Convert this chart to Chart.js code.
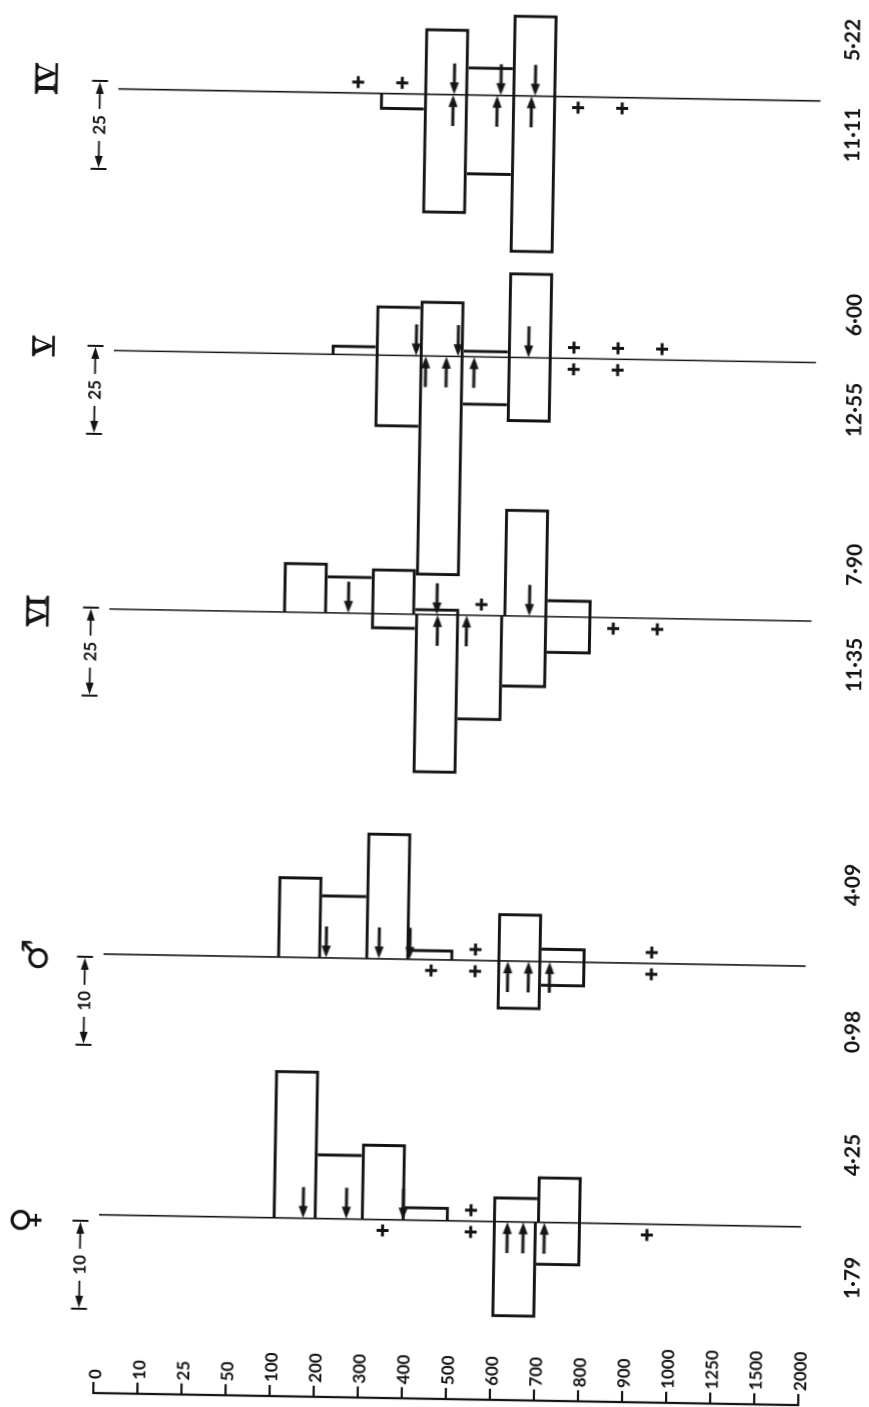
<!DOCTYPE html>
<html>
<head>
<meta charset="utf-8">
<title>Vertical distribution by depth, stages IV to VI</title>
<script src="https://cdn.jsdelivr.net/npm/chart.js@4.4.1/dist/chart.umd.min.js"></script>
<style>
  html, body { margin: 0; padding: 0; background: #fff; overflow: hidden; }
  #wrap { position: relative; width: 869px; height: 1407px; overflow: hidden; background: #fff; }
  /* the printed page is turned by about one degree, so the canvas is turned with it */
  #chart { position: absolute; left: -30px; top: -30px; background: #fff;
           transform-origin: 123.3px 1423px; transform: rotate(0.985deg); }
</style>
</head>
<body>
<div id="wrap"><canvas id="chart" width="929" height="1467"></canvas></div>
<script>
// Depth axis (m)
const depthTicks = ['0', '10', '25', '50', '100', '200', '300', '400', '500', '600', '700', '800', '900', '1000', '1250', '1500', '2000'];
const depthBounds = [0, 10, 25, 50, 100, 200, 300, 400, 500, 600, 700, 800, 900, 1000, 1250, 1500, 2000];

// Panels, top to bottom of the page
const panelNames = ['IV', 'V', 'VI', '\u2642', '\u2640'];
const scaleLabels = ['25', '25', '25', '10', '10'];
const upperTotals = ['5\u00b722', '6\u00b700', '7\u00b790', '4\u00b709', '4\u00b725'];
const lowerTotals = ['11\u00b711', '12\u00b755', '11\u00b735', '0\u00b798', '1\u00b779'];

// One value per depth band (16 bands: 0-10 ... 1500-2000), in units of the panel's scale bar
//                     0    10   25   50   100   200   300   400   500   600   700  800  900 1000 1250 1500
const stageIVUpper  = [null,null,null,null,null, null, null, 19.0, 8.2,  23.3, null,null,null,null,null,null];
const stageIVLower  = [null,null,null,null,null, null, 4.7,  34.3, 23.1, 45.2, null,null,null,null,null,null];
const stageVUpper   = [null,null,null,null,null, 2.8,  14.3, 15.9, 2.0,  24.5, null,null,null,null,null,null];
const stageVLower   = [null,null,null,null,null, null, 20.7, 63.2, 14.1, 18.6, null,null,null,null,null,null];
const stageVIUpper  = [null,null,null,null,14.4, 10.8, 13.0, 1.8,  null, 30.8, 5.0, null,null,null,null,null];
const stageVILower  = [null,null,null,null,null, null, 4.5,  45.7, 30.3, 20.6, 10.7,null,null,null,null,null];
const maleUpper     = [null,null,null,null,9.3,  7.3,  14.5, 1.2,  null, 5.5,  1.6, null,null,null,null,null];
const maleLower     = [null,null,null,null,null, null, null, null, null, 5.6,  2.9, null,null,null,null,null];
const femaleUpper   = [null,null,null,null,17.0, 7.5,  8.7,  1.6,  null, 2.9,  5.3, null,null,null,null,null];
const femaleLower   = [null,null,null,null,null, null, null, null, null, 11.0, 5.0, null,null,null,null,null];

// Bands sampled with nothing caught (+), by band index
const stageIVUpperNil = [5, 6];
const stageIVLowerNil = [10, 11];
const stageVUpperNil = [10, 11, 12];
const stageVLowerNil = [10, 11];
const stageVIUpperNil = [8];
const stageVILowerNil = [11, 12];
const maleUpperNil = [8, 12];
const maleLowerNil = [7, 8, 12];
const femaleUpperNil = [8];
const femaleLowerNil = [6, 8, 12];

// Quartile and median depths (m), shown as arrows
const stageIVUpperQ = [468, 574, 652];
const stageIVLowerQ = [466, 566, 644];
const stageVUpperQ = [392, 487, 647];
const stageVLowerQ = [414, 461, 524];
const stageVIUpperQ = [248, 449, 659];
const stageVILowerQ = [451, 517];
const maleUpperQ = [211, 331, 401];
const maleLowerQ = [624, 671, 719];
const femaleUpperQ = [169, 267, 396];
const femaleLowerQ = [633, 669, 717];

const upperSets = [stageIVUpper, stageVUpper, stageVIUpper, maleUpper, femaleUpper];
const lowerSets = [stageIVLower, stageVLower, stageVILower, maleLower, femaleLower];
const upperNils = [stageIVUpperNil, stageVUpperNil, stageVIUpperNil, maleUpperNil, femaleUpperNil];
const lowerNils = [stageIVLowerNil, stageVLowerNil, stageVILowerNil, maleLowerNil, femaleLowerNil];
const upperQs = [stageIVUpperQ, stageVUpperQ, stageVIUpperQ, maleUpperQ, femaleUpperQ];
const lowerQs = [stageIVLowerQ, stageVLowerQ, stageVILowerQ, maleLowerQ, femaleLowerQ];

// ---- layout (page pixels, before the one degree turn) ----
const PAD = 30;                 // canvas overhang on every side
const W = 929, H = 1467;
const AXIS_LEFT = 93.3, AXIS_RIGHT = 798.3, AXIS_Y = 1393;
const panelBase = [81, 346, 607.7, 957, 1221];   // baseline of each panel
const panelPx = [3.52, 3.52, 3.52, 8.8, 8.8];     // pixels per unit (scale bar = 88 px)
const SCALE_X = 77.5, SCALE_LEN = 88;
const INK = '#141414';
const LW = 3;

// label anchors as they sit on the turned page
const TILT = 0.0172;
const nameAt = [[46.5, 78.5], [43.5, 346], [37.5, 611], [38, 955], [27.5, 1220]];
const upperTotalAt = [[853, 40], [855, 315], [855, 565], [853, 885], [853, 1155]];
const lowerTotalAt = [[853, 135], [855, 410], [855, 665], [853, 1032], [853, 1278]];

function flat(x, y) {
    const dx = x - AXIS_LEFT, dy = y - AXIS_Y;
    const c = Math.cos(TILT), s = Math.sin(TILT);
    return [AXIS_LEFT + dx * c + dy * s + PAD, AXIS_Y - dx * s + dy * c + PAD];
}

function depthPos(d) {
    for (let i = 0; i < depthBounds.length - 1; i++) {
        if (d <= depthBounds[i + 1]) {
            return i + (d - depthBounds[i]) / (depthBounds[i + 1] - depthBounds[i]);
        }
    }
    return depthBounds.length - 1;
}

function makeArrow(down) {
    const c = document.createElement('canvas');
    c.width = 12; c.height = 31;
    const g = c.getContext('2d');
    g.fillStyle = INK;
    if (down) { g.translate(0, 31); g.scale(1, -1); }
    g.beginPath();
    g.moveTo(6, 0); g.lineTo(10.6, 12); g.lineTo(1.4, 12); g.closePath();
    g.fill();
    g.fillRect(4.5, 9, 3, 22);
    return c;
}
const arrowDown = makeArrow(true);
const arrowUp = makeArrow(false);

// borders between neighbouring bands are drawn once, by the taller bar
function barBorder(ctx) {
    if (!ctx.raw) return LW;
    const vals = ctx.dataset.vals;
    const i = Math.floor(ctx.raw.x);
    const h = vals[i] || 0;
    const prev = vals[i - 1] || 0;
    const next = vals[i + 1] || 0;
    return { top: LW, bottom: LW, left: prev < h ? LW : 0, right: next <= h ? LW : 0 };
}

const scales = {
    x: { type: 'linear', min: 0, max: 16, offset: false, display: false, ticks: { stepSize: 1 } }
};
const datasets = [];

panelNames.forEach((name, k) => {
    const id = 'y' + k;
    const base = panelBase[k] + PAD;
    scales[id] = { type: 'linear', display: false, min: -(H - base) / panelPx[k], max: base / panelPx[k] };

    datasets.push({
        type: 'line', yAxisID: id, data: [{ x: 0.06, y: 0 }, { x: 16, y: 0 }],
        borderColor: INK, borderWidth: 1.6, pointRadius: 0
    });

    [[upperSets[k], upperNils[k], upperQs[k], 1], [lowerSets[k], lowerNils[k], lowerQs[k], -1]].forEach(([vals, nil, q, sign]) => {
        const bars = [];
        vals.forEach((v, i) => { if (v != null) bars.push({ x: i + 0.5, y: sign * v }); });
        datasets.push({
            type: 'bar', yAxisID: id, vals: vals, data: bars,
            grouped: false, barPercentage: 1, categoryPercentage: 1,
            backgroundColor: 'rgba(0,0,0,0)', borderColor: INK,
            borderWidth: barBorder, borderSkipped: 'start', inflateAmount: 0
        });
        datasets.push({
            type: 'scatter', yAxisID: id,
            data: nil.map(i => ({ x: i + 0.5, y: sign * 11 / panelPx[k] })),
            pointStyle: 'cross', pointRadius: 6, pointBorderWidth: 3,
            borderColor: INK, backgroundColor: INK
        });
        datasets.push({
            type: 'scatter', yAxisID: id,
            data: q.map(d => ({ x: depthPos(d), y: sign * 16 / panelPx[k] })),
            pointStyle: sign > 0 ? arrowDown : arrowUp, pointRadius: 5,
            borderColor: INK, backgroundColor: INK
        });
    });
});

function rotText(ctx, str, x, y, font, align) {
    ctx.save();
    ctx.translate(x, y);
    ctx.rotate(-Math.PI / 2);
    ctx.font = font;
    ctx.fillStyle = INK;
    ctx.textAlign = align || 'center';
    ctx.textBaseline = 'middle';
    ctx.fillText(str, 0, 0);
    ctx.restore();
}

function drawRoman(ctx, str, x, y) {
    ctx.save();
    ctx.translate(x, y);
    ctx.rotate(-Math.PI / 2);
    ctx.font = 'bold 26px "Liberation Serif"';
    ctx.fillStyle = INK;
    ctx.strokeStyle = INK;
    ctx.textAlign = 'center';
    ctx.textBaseline = 'alphabetic';
    const w = ctx.measureText(str).width;
    const cap = 17;
    ctx.fillText(str, 0, cap / 2);
    ctx.lineWidth = 2.6;
    ctx.beginPath();
    ctx.moveTo(-w / 2 - 1, -cap / 2 - 1.5); ctx.lineTo(w / 2 + 1, -cap / 2 - 1.5);
    ctx.moveTo(-w / 2 - 1, cap / 2 + 1.5); ctx.lineTo(w / 2 + 1, cap / 2 + 1.5);
    ctx.stroke();
    ctx.restore();
}

function drawScaleBar(ctx, x, top, len, label) {
    const mid = top + len / 2;
    const bottom = top + len;
    ctx.save();
    ctx.strokeStyle = INK;
    ctx.fillStyle = INK;
    ctx.lineWidth = 2;
    ctx.beginPath();
    ctx.moveTo(x - 8, top); ctx.lineTo(x + 8, top);
    ctx.moveTo(x - 8, bottom); ctx.lineTo(x + 8, bottom);
    ctx.stroke();
    ctx.lineWidth = 1.8;
    ctx.beginPath();
    ctx.moveTo(x, top + 4); ctx.lineTo(x, mid - 16);
    ctx.moveTo(x, mid + 16); ctx.lineTo(x, bottom - 4);
    ctx.stroke();
    ctx.beginPath();
    ctx.moveTo(x, top + 1); ctx.lineTo(x + 4, top + 13); ctx.lineTo(x - 4, top + 13); ctx.closePath();
    ctx.moveTo(x, bottom - 1); ctx.lineTo(x + 4, bottom - 13); ctx.lineTo(x - 4, bottom - 13); ctx.closePath();
    ctx.fill();
    ctx.restore();
    rotText(ctx, label, x + 0.5, mid, 'bold 17px Lato');
}

const pagePlugin = {
    id: 'page',
    afterDraw(chart) {
        const ctx = chart.ctx;
        const xs = chart.scales.x;
        const axisY = AXIS_Y + PAD;

        // depth axis: line at the bottom, ticks pointing up, labels above the ticks
        ctx.save();
        ctx.strokeStyle = INK;
        ctx.lineWidth = 2.2;
        ctx.lineCap = 'square';
        ctx.beginPath();
        ctx.moveTo(xs.getPixelForValue(0), axisY);
        ctx.lineTo(xs.getPixelForValue(depthTicks.length - 1), axisY);
        depthTicks.forEach((t, i) => {
            const px = xs.getPixelForValue(i);
            ctx.moveTo(px, axisY);
            ctx.lineTo(px, axisY - 10);
        });
        ctx.stroke();
        ctx.restore();
        depthTicks.forEach((t, i) => {
            rotText(ctx, t, xs.getPixelForValue(i) + 2, axisY - 14, 'bold 17px Lato', 'left');
        });

        panelNames.forEach((name, k) => {
            const [nx, ny] = flat(nameAt[k][0], nameAt[k][1]);
            if (k < 3) {
                drawRoman(ctx, name, nx, ny);
            } else {
                rotText(ctx, name, nx, ny, 'bold 36px "DejaVu Sans"');
            }
            drawScaleBar(ctx, SCALE_X + PAD, panelBase[k] + PAD, SCALE_LEN, scaleLabels[k]);
            const [ux, uy] = flat(upperTotalAt[k][0], upperTotalAt[k][1]);
            const [lx, ly] = flat(lowerTotalAt[k][0], lowerTotalAt[k][1]);
            rotText(ctx, upperTotals[k], ux, uy, 'bold 21px Lato');
            rotText(ctx, lowerTotals[k], lx, ly, 'bold 21px Lato');
        });
    }
};

new Chart(document.getElementById('chart'), {
    type: 'bar',
    data: { datasets: datasets },
    options: {
        responsive: false,
        animation: false,
        devicePixelRatio: 2,
        events: [],
        layout: { padding: { left: AXIS_LEFT + PAD, right: W - AXIS_RIGHT - PAD, top: 0, bottom: 0 } },
        scales: scales,
        plugins: { legend: { display: false }, tooltip: { enabled: false } }
    },
    plugins: [pagePlugin]
});
</script>
</body>
</html>
